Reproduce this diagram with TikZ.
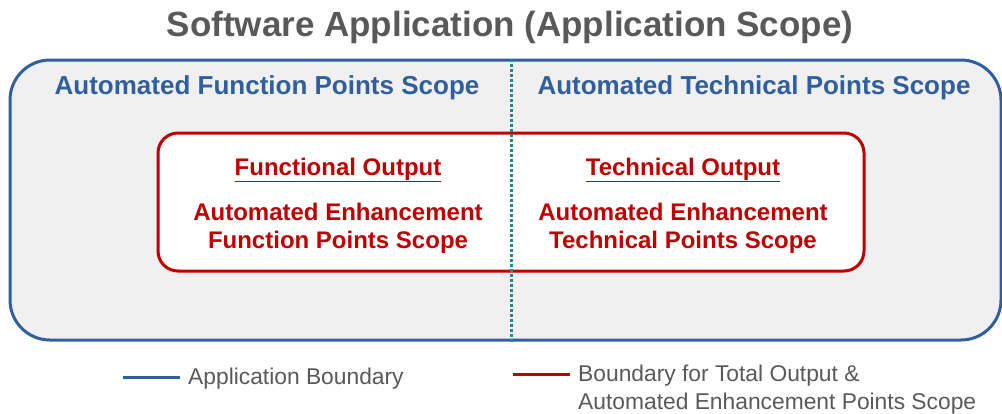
\documentclass[tikz,border=0pt]{standalone}
\usepackage{fontspec}
\setmainfont{Liberation Sans}
\definecolor{appblue}{HTML}{2F5F9F}
\definecolor{outred}{HTML}{C00000}
\definecolor{teal2}{HTML}{1F8A8A}
\definecolor{graytxt}{HTML}{595959}
\definecolor{boxfill}{HTML}{F0F0F0}
\tikzset{
  outerbox/.style={draw=appblue, line width=3pt, fill=boxfill, rounded corners=40pt, inner sep=0pt},
  innerbox/.style={draw=outred, line width=3pt, fill=white, rounded corners=20pt, inner sep=0pt},
  scopehead/.style={text=appblue, font=\fontsize{26}{30}\selectfont\bfseries, inner sep=0pt},
  redtxt/.style={text=outred, font=\fontsize{24}{28}\selectfont\bfseries, align=center, inner sep=0pt},
  legtxt/.style={text=graytxt, font=\fontsize{22.8}{28}\selectfont, inner sep=0pt, anchor=west, align=left},
}
\begin{document}
\begin{tikzpicture}[x=1pt,y=-1pt]
\useasboundingbox (0,0) rectangle (1002,413);
\node[text=graytxt, font=\fontsize{35}{40}\selectfont\bfseries, inner sep=0pt] (title) at (510,27) {Software Application (Application Scope)};
\node[outerbox, minimum width=991pt, minimum height=280pt] (outer) at (505.5,200) {};
\node[innerbox, minimum width=706pt, minimum height=138pt] (inner) at (511,202) {};
\draw[teal2, line width=3pt, dotted] (inner.center |- outer.north) -- (inner.center |- outer.south);
\node[scopehead] (fph) at (267,88) {Automated Function Points Scope};
\node[scopehead] (tph) at (754,88) {Automated Technical Points Scope};
\node[redtxt] (fo) at (338,170) {\underline{Functional Output}};
\node[redtxt] (fs) at (338,228) {Automated Enhancement\\Function Points Scope};
\node[redtxt] (to) at (683,170) {\underline{Technical Output}};
\node[redtxt] (ts) at (683,228) {Automated Enhancement\\Technical Points Scope};
\coordinate (b1) at (123,377);
\coordinate (b2) at (180,377);
\draw[appblue, line width=3pt] (b1) -- (b2);
\node[legtxt] (lb) at (188,379) {Application Boundary};
\coordinate (r1) at (513,374);
\coordinate (r2) at (570,374);
\draw[outred, line width=3pt] (r1) -- (r2);
\node[legtxt] (lr) at (578,390) {Boundary for Total Output \&\\Automated Enhancement Points Scope};
\end{tikzpicture}
\end{document}
